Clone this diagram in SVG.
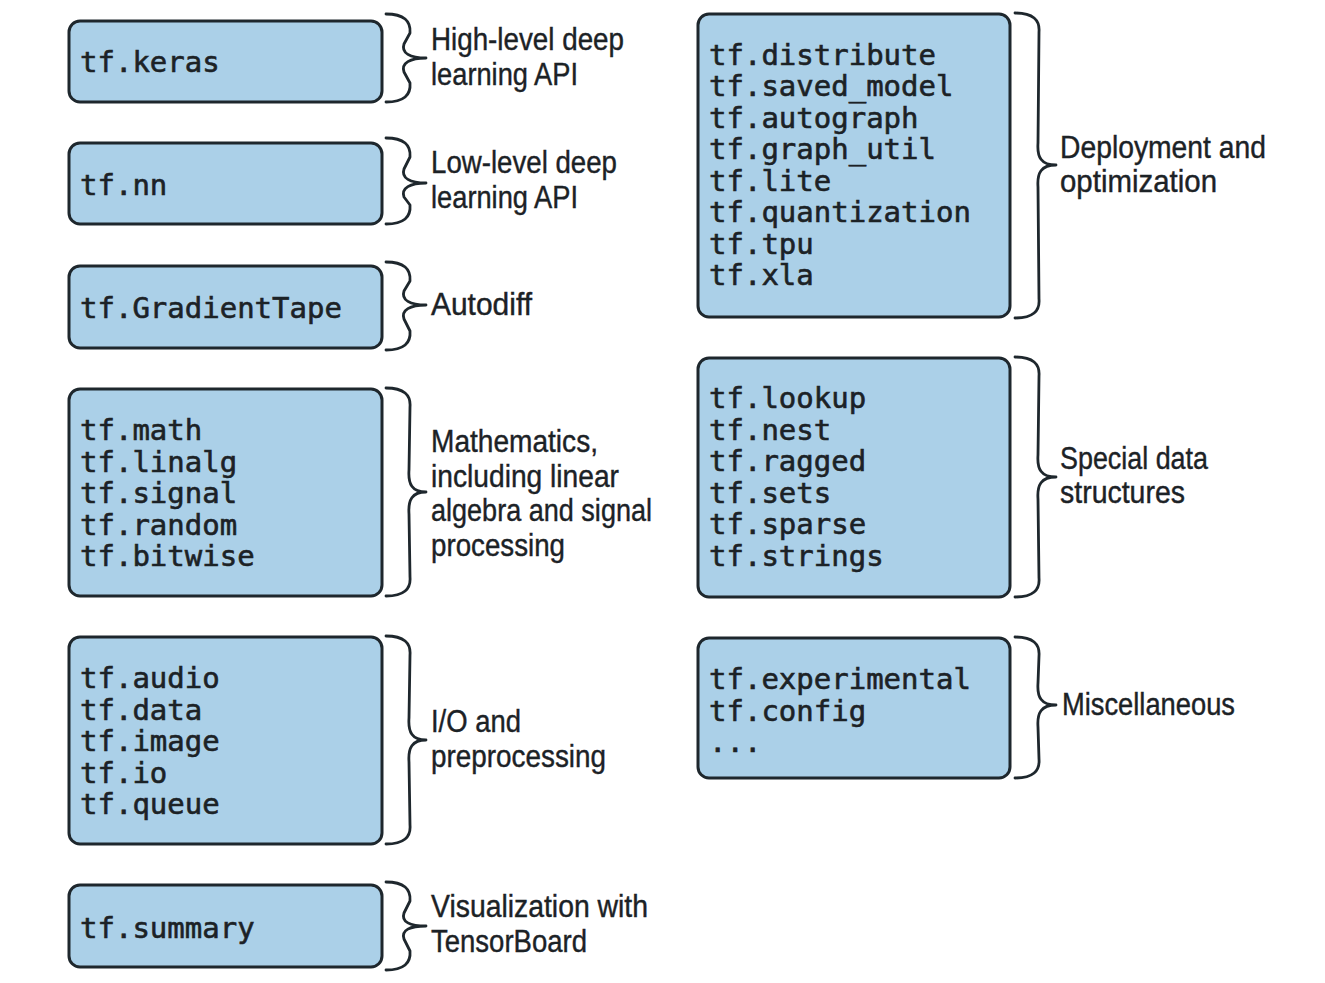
<svg xmlns="http://www.w3.org/2000/svg" width="1325" height="983" viewBox="0 0 1325 983">
<style>
.box{fill:#abd0e8;stroke:#1e272d;stroke-width:3}
.code{font-family:"DejaVu Sans Mono","Liberation Mono",monospace;font-size:29px;fill:#1c2226;stroke:#1c2226;stroke-width:0.6}
.lab{font-family:"Liberation Sans","Arial",sans-serif;font-size:31px;fill:#1c2226;stroke:#1c2226;stroke-width:0.4}
.brace{fill:none;stroke:#1e272d;stroke-width:2.8;stroke-linecap:round;stroke-linejoin:round}
</style>
<rect width="1325" height="983" fill="#ffffff"/>
<g id="connectors">
<path class="brace" d="M386,14 C404,14 411,21 410,33 L404,44 C401,53 410,58 426,58 C410,58 401,63 404,72 L410,83 C411,95 404,102 386,102"/>
<path class="brace" d="M386,138 C404,138 411,145 410,157 L404,169 C401,178 410,183 426,183 C410,183 401,188 404,197 L410,205 C411,217 404,224 386,224"/>
<path class="brace" d="M386,262 C404,262 411,269 410,281 L404,291 C401,300 410,305 426,305 C410,305 401,310 404,319 L410,331 C411,343 404,350 386,350"/>
<path class="brace" d="M386,388 C404,388 411,395 410,407 L409,470 C408,484 412,492 426,492 C412,492 408,500 409,514 L410,577 C411,589 404,596 386,596"/>
<path class="brace" d="M386,636 C404,636 411,643 410,655 L409,718 C408,732 412,740 426,740 C412,740 408,748 409,762 L410,825 C411,837 404,844 386,844"/>
<path class="brace" d="M386,882 C404,882 411,889 410,901 L404,913 C401,922 410,926 426,926 C410,926 401,930 404,939 L410,951 C411,963 404,970 386,970"/>
<path class="brace" d="M1015,13 C1033,13 1040,20 1039,32 L1038,143 C1037,157 1041,165 1056,165 C1041,165 1037,173 1038,187 L1039,299 C1040,311 1033,318 1015,318"/>
<path class="brace" d="M1015,357 C1033,357 1040,364 1039,376 L1038,455 C1037,469 1041,477 1056,477 C1041,477 1037,485 1038,499 L1039,578 C1040,590 1033,597 1015,597"/>
<path class="brace" d="M1015,637 C1033,637 1040,644 1039,656 L1038,683 C1037,697 1041,705 1056,705 C1041,705 1037,713 1038,727 L1039,759 C1040,771 1033,778 1015,778"/>
</g>
<g id="node-keras">
<rect class="box" x="69" y="21" width="313" height="81" rx="11"/>
<text class="code" x="80" y="72">tf.keras</text>
</g>
<g id="node-nn">
<rect class="box" x="69" y="143" width="313" height="81" rx="11"/>
<text class="code" x="80" y="195">tf.nn</text>
</g>
<g id="node-gradienttape">
<rect class="box" x="69" y="266" width="313" height="82" rx="11"/>
<text class="code" x="80" y="318">tf.GradientTape</text>
</g>
<g id="node-math">
<rect class="box" x="69" y="389" width="313" height="207" rx="11"/>
<text class="code" x="80" y="440">tf.math</text>
<text class="code" x="80" y="472">tf.linalg</text>
<text class="code" x="80" y="503">tf.signal</text>
<text class="code" x="80" y="535">tf.random</text>
<text class="code" x="80" y="566">tf.bitwise</text>
</g>
<g id="node-io">
<rect class="box" x="69" y="637" width="313" height="207" rx="11"/>
<text class="code" x="80" y="688">tf.audio</text>
<text class="code" x="80" y="720">tf.data</text>
<text class="code" x="80" y="751">tf.image</text>
<text class="code" x="80" y="783">tf.io</text>
<text class="code" x="80" y="814">tf.queue</text>
</g>
<g id="node-summary">
<rect class="box" x="69" y="885" width="313" height="82" rx="11"/>
<text class="code" x="80" y="938">tf.summary</text>
</g>
<g id="node-deployment">
<rect class="box" x="698" y="14" width="312" height="303" rx="11"/>
<text class="code" x="709" y="65">tf.distribute</text>
<text class="code" x="709" y="96">tf.saved_model</text>
<text class="code" x="709" y="128">tf.autograph</text>
<text class="code" x="709" y="159">tf.graph_util</text>
<text class="code" x="709" y="191">tf.lite</text>
<text class="code" x="709" y="222">tf.quantization</text>
<text class="code" x="709" y="254">tf.tpu</text>
<text class="code" x="709" y="285">tf.xla</text>
</g>
<g id="node-datastructures">
<rect class="box" x="698" y="358" width="312" height="239" rx="11"/>
<text class="code" x="709" y="408">tf.lookup</text>
<text class="code" x="709" y="440">tf.nest</text>
<text class="code" x="709" y="471">tf.ragged</text>
<text class="code" x="709" y="503">tf.sets</text>
<text class="code" x="709" y="534">tf.sparse</text>
<text class="code" x="709" y="566">tf.strings</text>
</g>
<g id="node-misc">
<rect class="box" x="698" y="638" width="312" height="140" rx="11"/>
<text class="code" x="709" y="689">tf.experimental</text>
<text class="code" x="709" y="721">tf.config</text>
<text class="code" x="709" y="752">...</text>
</g>
<g id="label-keras">
<text class="lab" x="431" y="50" textLength="193" lengthAdjust="spacingAndGlyphs">High-level deep</text>
<text class="lab" x="431" y="85" textLength="147" lengthAdjust="spacingAndGlyphs">learning API</text>
</g>
<g id="label-nn">
<text class="lab" x="431" y="173" textLength="186" lengthAdjust="spacingAndGlyphs">Low-level deep</text>
<text class="lab" x="431" y="208" textLength="147" lengthAdjust="spacingAndGlyphs">learning API</text>
</g>
<g id="label-gradienttape">
<text class="lab" x="431" y="315" textLength="101" lengthAdjust="spacingAndGlyphs">Autodiff</text>
</g>
<g id="label-math">
<text class="lab" x="431" y="452" textLength="167" lengthAdjust="spacingAndGlyphs">Mathematics,</text>
<text class="lab" x="431" y="487" textLength="188" lengthAdjust="spacingAndGlyphs">including linear</text>
<text class="lab" x="431" y="521" textLength="221" lengthAdjust="spacingAndGlyphs">algebra and signal</text>
<text class="lab" x="431" y="556" textLength="134" lengthAdjust="spacingAndGlyphs">processing</text>
</g>
<g id="label-io">
<text class="lab" x="431" y="732" textLength="90" lengthAdjust="spacingAndGlyphs">I/O and</text>
<text class="lab" x="431" y="767" textLength="175" lengthAdjust="spacingAndGlyphs">preprocessing</text>
</g>
<g id="label-summary">
<text class="lab" x="431" y="917" textLength="217" lengthAdjust="spacingAndGlyphs">Visualization with</text>
<text class="lab" x="431" y="952" textLength="156" lengthAdjust="spacingAndGlyphs">TensorBoard</text>
</g>
<g id="label-deployment">
<text class="lab" x="1060" y="158" textLength="206" lengthAdjust="spacingAndGlyphs">Deployment and</text>
<text class="lab" x="1060" y="192" textLength="157" lengthAdjust="spacingAndGlyphs">optimization</text>
</g>
<g id="label-datastructures">
<text class="lab" x="1060" y="469" textLength="148" lengthAdjust="spacingAndGlyphs">Special data</text>
<text class="lab" x="1060" y="503" textLength="125" lengthAdjust="spacingAndGlyphs">structures</text>
</g>
<g id="label-misc">
<text class="lab" x="1062" y="715" textLength="173" lengthAdjust="spacingAndGlyphs">Miscellaneous</text>
</g>
</svg>
